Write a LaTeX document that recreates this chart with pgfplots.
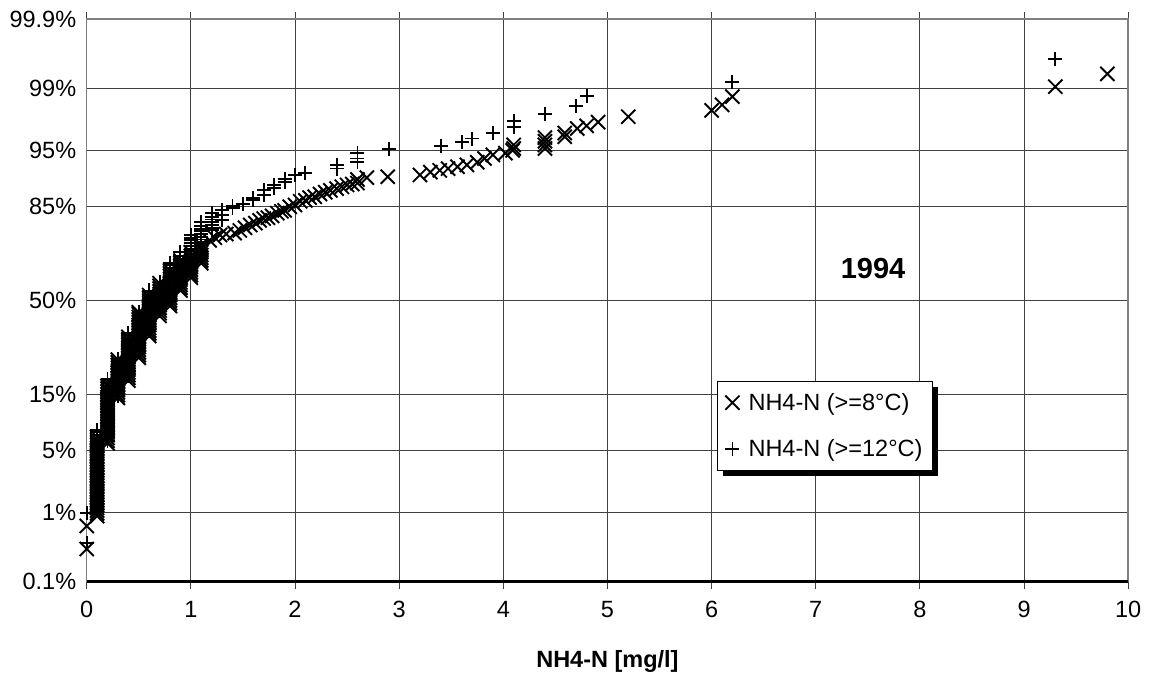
\documentclass[border=0pt]{standalone}
\usepackage{fontspec}
\setmainfont{Liberation Sans}
\usepackage{pgfplots}
\pgfplotsset{compat=1.18}
\usetikzlibrary{shadows}
\begin{document}
\begin{tikzpicture}
\begin{axis}[
  at={(0pt,0pt)}, anchor=south west,
  scale only axis, width=1041.5pt, height=562.4pt,
  xmin=0, xmax=10, ymin=-3.0902, ymax=3.0902,
  xtick={0,1,...,10},
  ytick={-3.0902,-2.3263,-1.6449,-1.0364,0,1.0364,1.6449,2.3263,3.0902},
  yticklabels={0.1\%,1\%,5\%,15\%,50\%,85\%,95\%,99\%,99.9\%},
  grid=major, grid style={black!75, line width=0.9pt},
  axis line style={black!50, line width=1.6pt},
  tick align=outside, major tick length=7pt,
  xtick style={black!75, line width=0.9pt},
  ytick style={draw=none},
  tick label style={font=\fontsize{23.5}{28}\selectfont},
  /pgf/number format/assume math mode=true,
  xticklabel style={yshift=-9pt},
  xlabel={NH4-N [mg/l]},
  xlabel style={font=\fontsize{23.5}{28}\selectfont\bfseries, at={(axis description cs:0.5,0)}, anchor=center, yshift=-79.3pt},
  clip=false,
  legend cell align=left,
  legend style={at={(axis description cs:0.6052,0.3569)}, anchor=north west, font=\fontsize{23.5}{28}\selectfont, draw=black, line width=0.8pt, fill=white, drop shadow={shadow xshift=6pt, shadow yshift=-6pt, fill=black, opacity=1}, inner xsep=8pt, inner ysep=10pt, row sep=24pt, column sep=7pt},
]
\addplot[only marks, mark=x, mark size=10pt, mark options={line width=1.9pt, black}] coordinates {
(0,-2.731)(0,-2.478)
(0.1,-2.37)(0.1,-2.34)(0.1,-2.31)(0.1,-2.28)(0.1,-2.25)(0.1,-2.22)(0.1,-2.19)(0.1,-2.16)(0.1,-2.13)(0.1,-2.10)(0.1,-2.07)(0.1,-2.04)(0.1,-2.01)(0.1,-1.98)(0.1,-1.95)(0.1,-1.92)(0.1,-1.89)(0.1,-1.86)(0.1,-1.83)(0.1,-1.80)(0.1,-1.77)(0.1,-1.74)(0.1,-1.71)(0.1,-1.68)(0.1,-1.65)(0.1,-1.62)(0.1,-1.59)(0.1,-1.56)(0.1,-1.53)(0.1,-1.50)
(0.2,-1.57)(0.2,-1.54)(0.2,-1.51)(0.2,-1.48)(0.2,-1.45)(0.2,-1.42)(0.2,-1.39)(0.2,-1.36)(0.2,-1.33)(0.2,-1.30)(0.2,-1.27)(0.2,-1.24)(0.2,-1.21)(0.2,-1.18)(0.2,-1.15)(0.2,-1.12)(0.2,-1.09)(0.2,-1.06)(0.2,-1.03)(0.2,-1.00)(0.2,-0.97)(0.2,-0.94)
(0.3,-1.07)(0.3,-1.04)(0.3,-1.01)(0.3,-0.98)(0.3,-0.95)(0.3,-0.92)(0.3,-0.89)(0.3,-0.86)(0.3,-0.83)(0.3,-0.80)(0.3,-0.77)(0.3,-0.74)(0.3,-0.71)(0.3,-0.68)(0.3,-0.65)
(0.4,-0.88)(0.4,-0.85)(0.4,-0.82)(0.4,-0.79)(0.4,-0.76)(0.4,-0.73)(0.4,-0.70)(0.4,-0.67)(0.4,-0.64)(0.4,-0.61)(0.4,-0.58)(0.4,-0.55)(0.4,-0.52)(0.4,-0.49)(0.4,-0.46)(0.4,-0.43)(0.4,-0.40)
(0.5,-0.63)(0.5,-0.60)(0.5,-0.57)(0.5,-0.54)(0.5,-0.51)(0.5,-0.48)(0.5,-0.45)(0.5,-0.42)(0.5,-0.39)(0.5,-0.36)(0.5,-0.33)(0.5,-0.30)(0.5,-0.27)(0.5,-0.24)(0.5,-0.21)(0.5,-0.18)(0.5,-0.15)(0.5,-0.13)
(0.6,-0.39)(0.6,-0.36)(0.6,-0.33)(0.6,-0.30)(0.6,-0.27)(0.6,-0.24)(0.6,-0.21)(0.6,-0.18)(0.6,-0.15)(0.6,-0.12)(0.6,-0.09)(0.6,-0.06)(0.6,-0.03)(0.6,0.00)(0.6,0.03)(0.6,0.06)
(0.7,-0.17)(0.7,-0.14)(0.7,-0.11)(0.7,-0.08)(0.7,-0.05)(0.7,-0.02)(0.7,0.01)(0.7,0.04)(0.7,0.07)(0.7,0.10)(0.7,0.13)(0.7,0.16)(0.7,0.19)
(0.8,-0.06)(0.8,-0.03)(0.8,0.00)(0.8,0.03)(0.8,0.06)(0.8,0.09)(0.8,0.12)(0.8,0.15)(0.8,0.18)(0.8,0.21)(0.8,0.24)(0.8,0.27)(0.8,0.30)(0.8,0.33)
(0.9,0.11)(0.9,0.14)(0.9,0.17)(0.9,0.20)(0.9,0.23)(0.9,0.26)(0.9,0.29)(0.9,0.32)(0.9,0.35)(0.9,0.38)(0.9,0.41)(0.9,0.44)
(1.0,0.25)(1.0,0.28)(1.0,0.31)(1.0,0.34)(1.0,0.37)(1.0,0.40)(1.0,0.43)(1.0,0.46)(1.0,0.49)(1.0,0.53)
(1.1,0.41)(1.1,0.44)(1.1,0.47)(1.1,0.50)(1.1,0.53)(1.1,0.56)(1.1,0.59)(1.1,0.61)
(1.18,0.66)(1.23,0.69)(1.28,0.72)(1.34,0.73)(1.42,0.74)(1.47,0.77)(1.52,0.80)(1.57,0.83)(1.62,0.85)(1.66,0.88)(1.70,0.90)(1.74,0.91)(1.78,0.93)(1.83,0.96)(1.87,0.98)(1.90,0.99)(1.95,1.03)(2.00,1.05)(2.05,1.09)(2.10,1.10)(2.14,1.13)(2.19,1.14)(2.24,1.17)(2.29,1.19)(2.34,1.21)(2.40,1.23)(2.45,1.25)(2.50,1.27)(2.55,1.28)(2.60,1.29)(2.60,1.33)(2.69,1.35)
(2.89,1.36)
(3.20,1.38)(3.30,1.41)(3.39,1.43)(3.47,1.45)(3.56,1.47)(3.65,1.49)(3.75,1.52)(3.82,1.56)(3.90,1.60)(4.02,1.62)(4.09,1.65)(4.1,1.67)(4.1,1.71)
(4.4,1.67)(4.4,1.71)(4.4,1.75)(4.4,1.79)
(4.59,1.80)(4.59,1.84)(4.71,1.89)(4.80,1.92)(4.91,1.96)
(5.20,2.02)(6.0,2.09)(6.1,2.15)(6.2,2.24)
(9.3,2.35)(9.8,2.49)
};
\addlegendentry{NH4-N (>=8°C)}
\addplot[only marks, mark=+, mark size=7pt, mark options={line width=1.9pt, black}] coordinates {
(0,-2.665)(0,-2.335)
(0.1,-2.26)(0.1,-2.23)(0.1,-2.20)(0.1,-2.17)(0.1,-2.14)(0.1,-2.11)(0.1,-2.08)(0.1,-2.05)(0.1,-2.02)(0.1,-1.99)(0.1,-1.96)(0.1,-1.93)(0.1,-1.90)(0.1,-1.87)(0.1,-1.84)(0.1,-1.81)(0.1,-1.78)(0.1,-1.75)(0.1,-1.72)(0.1,-1.69)(0.1,-1.66)(0.1,-1.63)(0.1,-1.60)(0.1,-1.57)(0.1,-1.54)(0.1,-1.51)(0.1,-1.48)(0.1,-1.45)(0.1,-1.42)
(0.2,-1.54)(0.2,-1.51)(0.2,-1.48)(0.2,-1.45)(0.2,-1.42)(0.2,-1.39)(0.2,-1.36)(0.2,-1.33)(0.2,-1.30)(0.2,-1.27)(0.2,-1.24)(0.2,-1.21)(0.2,-1.18)(0.2,-1.15)(0.2,-1.12)(0.2,-1.09)(0.2,-1.06)(0.2,-1.03)(0.2,-1.00)(0.2,-0.97)(0.2,-0.94)(0.2,-0.91)(0.2,-0.88)(0.2,-0.86)
(0.3,-1.05)(0.3,-1.02)(0.3,-0.99)(0.3,-0.96)(0.3,-0.93)(0.3,-0.90)(0.3,-0.87)(0.3,-0.84)(0.3,-0.81)(0.3,-0.78)(0.3,-0.75)(0.3,-0.72)(0.3,-0.69)(0.3,-0.66)(0.3,-0.64)
(0.4,-0.83)(0.4,-0.80)(0.4,-0.77)(0.4,-0.74)(0.4,-0.71)(0.4,-0.68)(0.4,-0.65)(0.4,-0.62)(0.4,-0.59)(0.4,-0.56)(0.4,-0.53)(0.4,-0.50)(0.4,-0.47)(0.4,-0.44)(0.4,-0.41)(0.4,-0.38)(0.4,-0.36)
(0.5,-0.55)(0.5,-0.52)(0.5,-0.49)(0.5,-0.46)(0.5,-0.43)(0.5,-0.40)(0.5,-0.37)(0.5,-0.34)(0.5,-0.31)(0.5,-0.28)(0.5,-0.25)(0.5,-0.22)(0.5,-0.19)(0.5,-0.16)(0.5,-0.13)
(0.6,-0.33)(0.6,-0.30)(0.6,-0.27)(0.6,-0.24)(0.6,-0.21)(0.6,-0.18)(0.6,-0.15)(0.6,-0.12)(0.6,-0.09)(0.6,-0.06)(0.6,-0.03)(0.6,0.00)(0.6,0.03)(0.6,0.06)(0.6,0.09)(0.6,0.11)
(0.7,-0.11)(0.7,-0.08)(0.7,-0.05)(0.7,-0.02)(0.7,0.01)(0.7,0.04)(0.7,0.07)(0.7,0.10)(0.7,0.13)(0.7,0.16)(0.7,0.20)
(0.8,0.06)(0.8,0.09)(0.8,0.12)(0.8,0.15)(0.8,0.18)(0.8,0.21)(0.8,0.24)(0.8,0.27)(0.8,0.30)(0.8,0.33)(0.8,0.36)(0.8,0.39)(0.8,0.41)
(0.9,0.28)(0.9,0.31)(0.9,0.34)(0.9,0.37)(0.9,0.40)(0.9,0.43)(0.9,0.46)(0.9,0.49)(0.9,0.53)
(1.0,0.42)(1.0,0.45)(1.0,0.48)(1.0,0.51)(1.0,0.54)(1.0,0.57)(1.0,0.60)(1.0,0.63)(1.0,0.66)(1.0,0.69)(1.0,0.72)
(1.1,0.61)(1.1,0.64)(1.1,0.67)(1.1,0.70)(1.1,0.73)(1.1,0.76)(1.1,0.79)(1.1,0.82)(1.1,0.86)
(1.2,0.77)(1.2,0.80)(1.2,0.83)(1.2,0.86)(1.2,0.89)(1.2,0.92)(1.2,0.96)
(1.3,0.88)(1.3,0.94)(1.3,0.99)
(1.4,1.02)(1.4,1.04)(1.5,1.06)
(1.6,1.10)(1.6,1.13)(1.7,1.16)(1.7,1.21)
(1.8,1.24)(1.8,1.27)(1.9,1.30)(1.9,1.34)
(2.0,1.38)(2.1,1.40)
(2.4,1.45)(2.4,1.49)
(2.6,1.52)(2.6,1.56)(2.6,1.62)
(2.9,1.66)(3.4,1.70)(3.6,1.74)(3.7,1.78)(3.9,1.84)
(4.1,1.91)(4.1,1.97)(4.4,2.05)(4.7,2.14)(4.8,2.25)
(6.2,2.40)(9.3,2.65)
};
\addlegendentry{NH4-N (>=12°C)}
\draw[black, line width=2.5pt] (axis cs:0,-3.0902) -- (axis cs:10,-3.0902);
\node[font=\fontsize{29}{34}\selectfont\bfseries] at (axis cs:7.55,0.352) {1994};
\end{axis}
\path[use as bounding box] (-86.7pt,-117.3pt) rectangle (1062.3pt,581.7pt);
\end{tikzpicture}
\end{document}
